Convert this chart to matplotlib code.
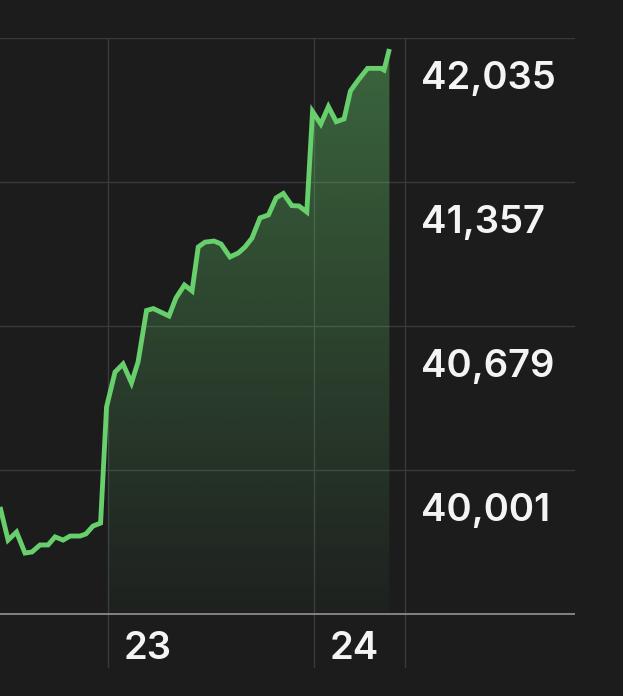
import numpy as np
import matplotlib
matplotlib.use("Agg")
import matplotlib.pyplot as plt
from matplotlib import transforms
from matplotlib.patches import Polygon

# ---- data ----
days = [22.476, 22.515, 22.556, 22.597, 22.631, 22.670, 22.709, 22.743, 22.782,
        22.816, 22.864, 22.893, 22.927, 22.964, 22.993, 23.034, 23.073, 23.114,
        23.146, 23.187, 23.220, 23.296, 23.330, 23.371, 23.408, 23.438, 23.471,
        23.515, 23.549, 23.592, 23.633, 23.665, 23.699, 23.738, 23.779, 23.816,
        23.851, 23.892, 23.927, 23.965, 23.993, 24.033, 24.070, 24.108, 24.146,
        24.177, 24.215, 24.260, 24.325, 24.340, 24.366]
prices = [39827, 39671, 39709, 39610, 39615, 39648, 39648, 39686, 39671,
          39690, 39690, 39700, 39737, 39751, 40298, 40462, 40500, 40411,
          40510, 40752, 40761, 40726, 40811, 40872, 40844, 41051, 41074,
          41079, 41065, 41004, 41023, 41051, 41093, 41188, 41202, 41282,
          41303, 41246, 41244, 41216, 41689, 41630, 41712, 41641, 41654,
          41786, 41837, 41892, 41892, 41884, 41983]
y_ticks = [42035, 41357, 40679, 40001]
y_tick_labels = ["42,035", "41,357", "40,679", "40,001"]
baseline_price = 39323
day_ticks = [23, 24]
day_labels = ["23", "24"]
session_end = 24.442
fill_start = 23

# ---- style ----
BG = "#1c1c1d"
GRID = "#3a3a3c"
AXIS = "#8a8a8c"
LINE = "#67cf6b"
TEXT = "#f4f4f4"
FONT = ["Inter", "DejaVu Sans"]

W, H, DPI = 623, 696, 100
fig = plt.figure(figsize=(W / DPI, H / DPI), dpi=DPI, facecolor=BG)
left_px, right_px, top_px, bottom_px = 0, 575, 38, 668
ax = fig.add_axes([left_px / W, 1 - bottom_px / H,
                   (right_px - left_px) / W, (bottom_px - top_px) / H])
ax.set_facecolor(BG)
for s in ax.spines.values():
    s.set_visible(False)
ax.set_xticks([])
ax.set_yticks([])

px_per_day = 206.0
price_per_px = (y_ticks[0] - y_ticks[1]) / 144.0
xmin = day_ticks[0] - 108 / px_per_day
ax.set_xlim(xmin, xmin + (right_px - left_px) / px_per_day)
ax.set_ylim(y_ticks[0] - (bottom_px - top_px) * price_per_px, y_ticks[0])

# grid
for p in y_ticks:
    ax.axhline(p, color=GRID, lw=1.0, zorder=1)
ax.axhline(baseline_price, color=AXIS, lw=1.3, zorder=4)
for d in day_ticks + [session_end]:
    ax.axvline(d, color=GRID, lw=1.0, zorder=1)

# gradient fill (from day 23 onward)
d = np.array(days)
p = np.array(prices, dtype=float)
start_val = np.interp(fill_start, d, p)
mask = d > fill_start
xs = np.concatenate([[fill_start], d[mask], [d[-1], fill_start]])
ys = np.concatenate([[start_val], p[mask], [baseline_price, baseline_price]])
poly = Polygon(np.column_stack([xs, ys]), closed=True, facecolor="none",
               edgecolor="none", transform=ax.transData)
ax.add_patch(poly)
n = 256
alpha = np.linspace(0.42, 0.03, n)[:, None]
rgb = np.array(matplotlib.colors.to_rgb(LINE))
grad = np.zeros((n, 1, 4))
grad[..., :3] = rgb
grad[..., 3] = alpha
im = ax.imshow(grad, extent=[fill_start, d[-1], baseline_price, y_ticks[0]],
               aspect="auto", origin="upper", zorder=2, interpolation="bilinear")
im.set_clip_path(poly)

# line
ax.plot(days, prices, color=LINE, lw=3.5, zorder=5,
        solid_joinstyle="miter", solid_capstyle="butt")

# labels
ytrans = transforms.offset_copy(
    transforms.blended_transform_factory(ax.transAxes, ax.transData),
    fig=fig, x=0, y=-51, units="dots")
for val, lab in zip(y_ticks, y_tick_labels):
    ax.text(421 / (right_px - left_px), val, lab, transform=ytrans,
            color=TEXT, fontsize=27.5, family=FONT, fontweight="semibold",
            ha="left", va="baseline", clip_on=False)

xtrans = transforms.offset_copy(ax.transData, fig=fig, x=16, y=-45, units="dots")
for dv, lab in zip(day_ticks, day_labels):
    ax.text(dv, baseline_price, lab, transform=xtrans, color=TEXT,
            fontsize=27.5, family=FONT, fontweight="semibold",
            ha="left", va="baseline", clip_on=False)

fig.savefig("out.png", dpi=DPI, facecolor=BG)
